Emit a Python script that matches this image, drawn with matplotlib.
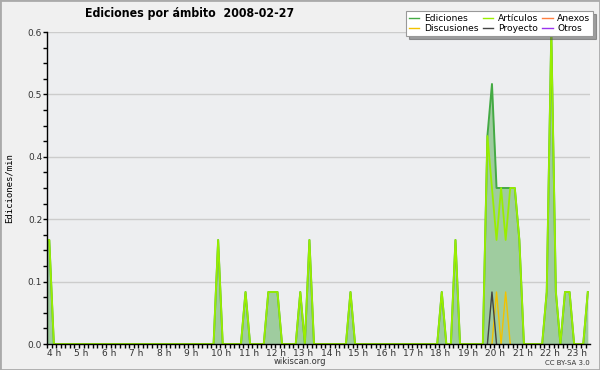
import matplotlib
matplotlib.use("Agg")
import matplotlib.pyplot as plt
from matplotlib.lines import Line2D
from matplotlib.patches import Rectangle
from matplotlib.ticker import FixedLocator, MultipleLocator, FuncFormatter

# 10-minute bins (start time), edits per minute
bins = ["03:50", "04:00", "04:10",
        "10:00", "10:10", "10:20",
        "11:00", "11:10", "11:20",
        "11:50", "12:00", "12:10", "12:20", "12:30",
        "13:00", "13:10", "13:20", "13:30", "13:40",
        "14:50", "15:00", "15:10",
        "18:10", "18:20", "18:30", "18:40", "18:50", "19:00",
        "19:50", "20:00", "20:10", "20:20", "20:30", "20:40", "20:50", "21:00", "21:10", "21:20",
        "22:00", "22:10", "22:20", "22:30", "22:40", "22:50", "23:00", "23:10",
        "23:30", "23:40"]
ediciones = [0.2, 0.2, 0,
             0, 0.2, 0,
             0, 0.1, 0,
             0, 0.1, 0.1, 0.1, 0,
             0, 0.1, 0, 0.2, 0,
             0, 0.1, 0,
             0, 0.1, 0, 0, 0.2, 0,
             0, 0.4, 0.5, 0.3, 0.3, 0.3, 0.3, 0.3, 0.2, 0,
             0, 0.1, 0.6, 0.1, 0, 0.1, 0.1, 0,
             0, 0.1]
articulos = [0.2, 0.2, 0,
             0, 0.2, 0,
             0, 0.1, 0,
             0, 0.1, 0.1, 0.1, 0,
             0, 0.1, 0, 0.2, 0,
             0, 0.1, 0,
             0, 0.1, 0, 0, 0.2, 0,
             0, 0.4, 0.3, 0.2, 0.3, 0.2, 0.3, 0.3, 0.2, 0,
             0, 0.1, 0.6, 0.1, 0, 0.1, 0.1, 0,
             0, 0.1]
disc_bins = ["20:10", "20:20", "20:30", "20:40", "20:50"]
discusiones = [0, 0.1, 0, 0.1, 0]
proy_bins = ["20:00", "20:10", "20:20"]
proyecto = [0, 0.1, 0]

hours = list(range(4, 24))


def to_x(labels):
    # bins are drawn at their centre (start + 5 min)
    out = []
    for s in labels:
        h, m = s.split(":")
        out.append(int(h) + (int(m) + 5) / 60)
    return out


C_ED = "#44aa44"
C_FILL = "#9fcc9f"
C_ART = "#99ee00"
C_DISC = "#f2c200"
C_PROY = "#444444"
C_ANEX = "#ff7f40"
C_OTR = "#9933ee"

fig = plt.figure(figsize=(6, 3.7), dpi=100, facecolor="#f0f0f0")
ax = fig.add_axes([47 / 600, 26 / 370, 543 / 600, 312 / 370])
ax.set_facecolor("#edeef0")

x = to_x(bins)
ax.fill_between(x, ediciones, 0, color=C_FILL, lw=0, zorder=2)
ax.plot(x, ediciones, color=C_ED, lw=1.4, zorder=3)
ax.plot(x, articulos, color=C_ART, lw=1.3, zorder=4)
ax.plot(to_x(disc_bins), discusiones, color=C_DISC, lw=1, zorder=5)
ax.plot(to_x(proy_bins), proyecto, color=C_PROY, lw=1, zorder=6)

ax.set_xlim(4, 23.83)
ax.set_ylim(0, 0.6)

ax.xaxis.set_major_locator(FixedLocator(hours))
ax.xaxis.set_minor_locator(MultipleLocator(1 / 6))
ax.set_xticklabels([f"{h} h" for h in hours], ha="left")
ax.yaxis.set_major_locator(MultipleLocator(0.12))
ax.yaxis.set_minor_locator(MultipleLocator(0.03))
ax.yaxis.set_major_formatter(FuncFormatter(lambda v, p: f"{v:.1f}"))
ax.tick_params(axis="both", which="both", direction="out", length=3, width=1,
               labelsize=6.5, labelcolor="#333333", pad=0.5)
ax.grid(axis="y", color="#cccccc", lw=1, zorder=1)
ax.set_axisbelow(True)
for side in ("top", "right"):
    ax.spines[side].set_visible(False)
for side in ("left", "bottom"):
    ax.spines[side].set_zorder(10)
    ax.spines[side].set_linewidth(1)

ax.set_ylabel("Ediciones/min", family="DejaVu Sans Mono", fontsize=6.5, labelpad=10)

handles = [Line2D([], [], color=C_ED, lw=1, label="Ediciones"),
           Line2D([], [], color=C_DISC, lw=1, label="Discusiones"),
           Line2D([], [], color=C_ART, lw=1, label="Artículos"),
           Line2D([], [], color=C_PROY, lw=1, label="Proyecto"),
           Line2D([], [], color=C_ANEX, lw=1, label="Anexos"),
           Line2D([], [], color=C_OTR, lw=1, label="Otros")]
leg = ax.legend(handles=handles, loc="upper right", bbox_to_anchor=(593 / 600, 1 - 11 / 370),
                bbox_transform=fig.transFigure, ncol=3, fontsize=6.6, frameon=True,
                shadow=True, fancybox=False, handlelength=1.1, columnspacing=0.5,
                handletextpad=0.5, borderpad=0.3, labelspacing=0.15, borderaxespad=0)
leg.get_frame().set_edgecolor("#999999")
leg.get_frame().set_linewidth(0.8)
leg.set_zorder(20)

fig.text(85 / 600, 1 - 13 / 370, "Ediciones por ámbito  2008-02-27",
         fontsize=8.8, fontweight="bold", fontstretch="condensed", va="center", ha="left")
fig.text(300 / 600, 1 - 362 / 370, "wikiscan.org", fontsize=6, color="#333333",
         ha="center", va="center")
fig.text(590 / 600, 1 - 363 / 370, "CC BY-SA 3.0", fontsize=5, color="#333333",
         ha="right", va="center")
fig.patches.append(Rectangle((0, 0), 1, 1, transform=fig.transFigure, fill=False,
                             edgecolor="#aaaaaa", lw=2, zorder=30))

fig.savefig("out.png", dpi=100, facecolor=fig.get_facecolor())
